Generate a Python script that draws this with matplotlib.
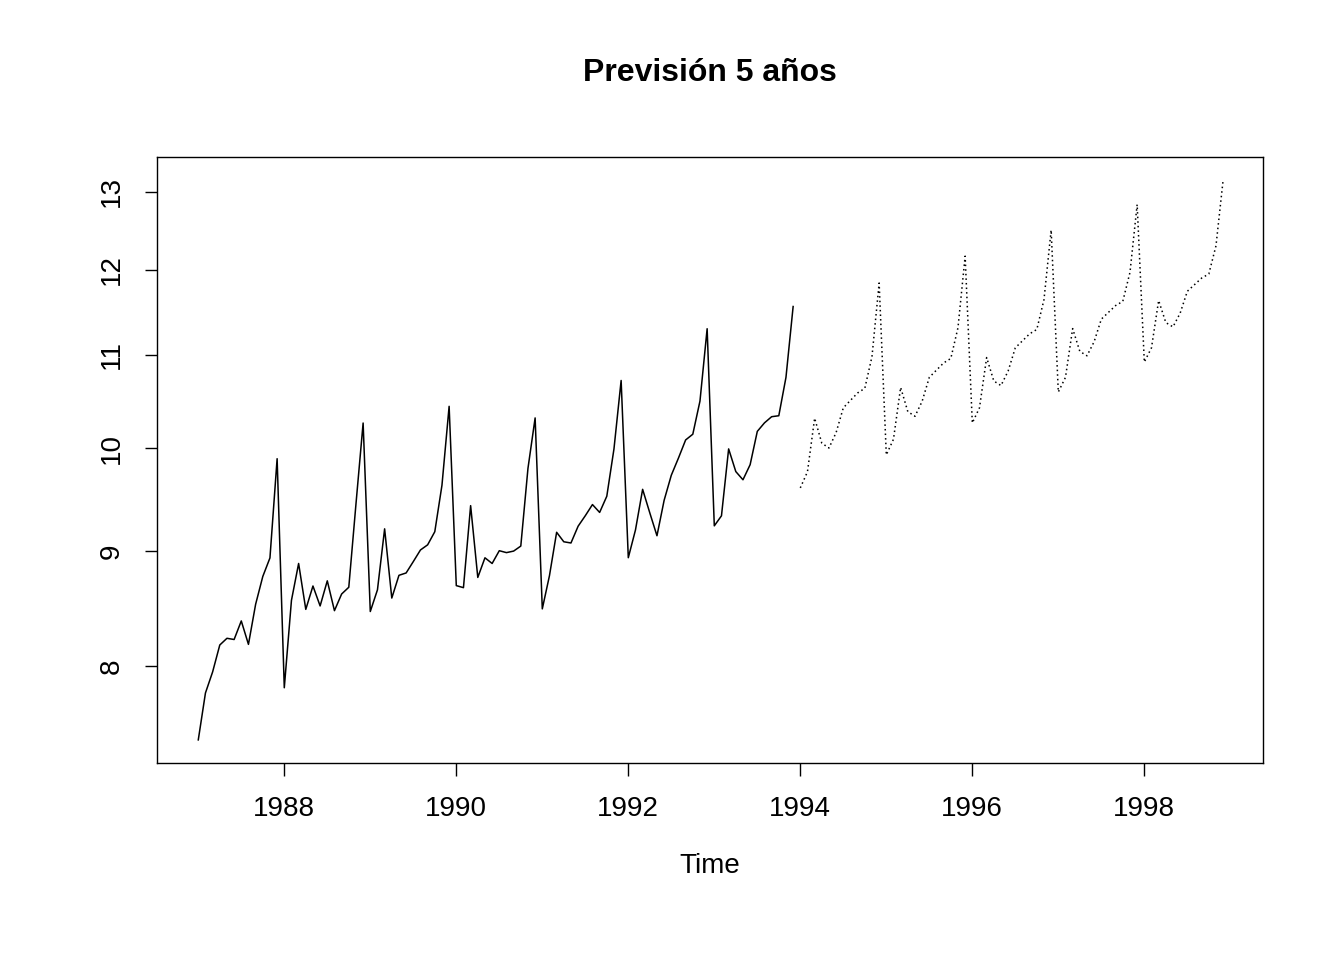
import numpy as np
import matplotlib
matplotlib.use("Agg")
import matplotlib.pyplot as plt
from matplotlib.ticker import FixedLocator, NullLocator

plt.rcParams['font.family'] = ['Liberation Sans', 'DejaVu Sans']

fancy = [1664.81, 2397.53, 2840.71, 3547.29, 3752.96, 3714.74, 4349.61, 3566.34, 5021.82, 6423.48, 7600.60, 19756.21,
         2499.81, 5198.24, 7225.14, 4806.03, 5900.88, 4951.34, 6179.12, 4752.15, 5496.43, 5835.10, 12600.08, 28541.72,
         4717.02, 5702.63, 9957.58, 5304.78, 6492.43, 6630.80, 7349.62, 8176.62, 8573.17, 9690.50, 15151.84, 34061.01,
         5921.10, 5814.58, 12421.25, 6369.77, 7609.12, 7224.75, 8121.22, 7979.25, 8093.06, 8476.70, 17914.66, 30114.41,
         4826.64, 6470.23, 9638.77, 8821.17, 8722.37, 10209.48, 11276.55, 12552.22, 11637.39, 13606.89, 21822.11, 45060.69,
         7615.03, 9849.69, 14558.40, 11587.33, 9332.56, 13082.09, 16732.78, 19888.61, 23933.38, 25391.35, 36024.80, 80721.71,
         10243.24, 11266.88, 21826.84, 17357.33, 15997.79, 18601.53, 26155.15, 28586.52, 30505.41, 30821.33, 46634.38, 104660.67]
forecast = [9.60, 9.76, 10.31, 10.05, 10.00, 10.16, 10.42, 10.50, 10.58, 10.63, 10.98, 11.84,
            9.93, 10.09, 10.64, 10.38, 10.33, 10.49, 10.75, 10.83, 10.91, 10.96, 11.31, 12.17,
            10.26, 10.42, 10.97, 10.71, 10.66, 10.82, 11.08, 11.16, 11.24, 11.29, 11.64, 12.50,
            10.59, 10.75, 11.30, 11.04, 10.99, 11.15, 11.41, 11.49, 11.57, 11.62, 11.97, 12.83,
            10.92, 11.08, 11.63, 11.37, 11.32, 11.48, 11.74, 11.82, 11.90, 11.95, 12.30, 13.16]
yticks = [8, 9, 10, 11, 12, 13]
xticks = [1988, 1990, 1992, 1994, 1996, 1998]

t_obs = 1987 + np.arange(len(fancy)) / 12
t_fc = 1994 + np.arange(len(forecast)) / 12

fig = plt.figure(figsize=(13.44, 9.6), dpi=100)
ax = fig.add_axes([157/1344, 1-763/960, (1263-157)/1344, (763-157)/960])
ax.plot(t_obs, np.log(fancy), color='black', lw=1.1)
ax.plot(t_fc, forecast, color='black', lw=1.1, linestyle=(0, (1, 2)))
ax.set_yscale('log')
ax.set_xlim(1986.52, 1999.38)
ax.set_ylim(7.244, 13.47)
ax.yaxis.set_major_locator(FixedLocator(yticks))
ax.yaxis.set_minor_locator(NullLocator())
ax.set_yticklabels([str(v) for v in yticks], rotation=90, va='center')
ax.set_xticks(xticks)
ax.set_xticklabels([str(v) for v in xticks])
ax.tick_params(labelsize=20, length=9, width=1)
ax.tick_params(axis='x', pad=15)
ax.tick_params(axis='y', pad=14)
for s in ax.spines.values():
    s.set_linewidth(1)
ax.set_xlabel('Time', fontsize=20, labelpad=22)
ax.set_title('Previsión 5 años', fontsize=23, fontweight='bold', pad=55)
fig.savefig('out.png', dpi=100)
